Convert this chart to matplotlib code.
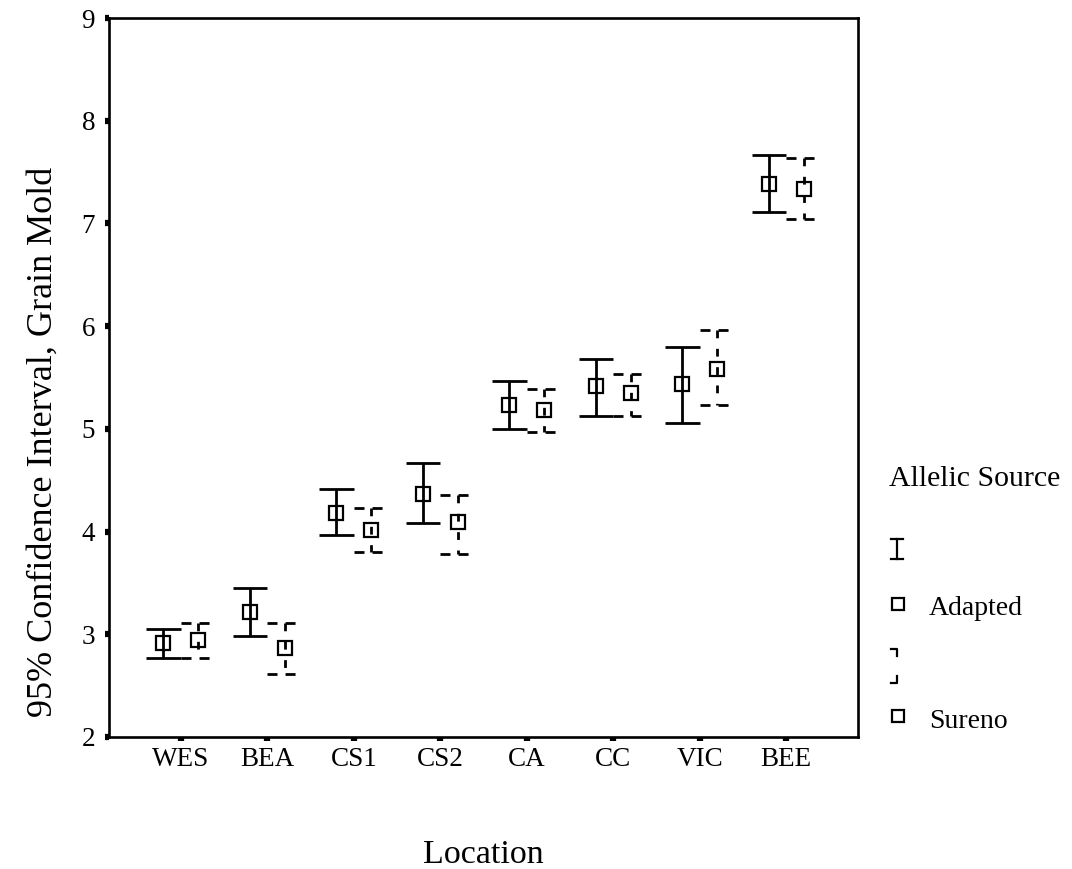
import numpy as np
import matplotlib
matplotlib.use('Agg')
import matplotlib.pyplot as plt

plt.rcParams['font.family'] = ['Liberation Serif', 'DejaVu Serif']

# locations and 95% CI of grain mold score per allelic source
locations = ['WES', 'BEA', 'CS1', 'CS2', 'CA', 'CC', 'VIC', 'BEE']

adapted_mean = [2.92, 3.22, 4.18, 4.37, 5.23, 5.42, 5.44, 7.38]
adapted_low = [2.77, 2.98, 3.97, 4.08, 5.00, 5.13, 5.06, 7.11]
adapted_high = [3.05, 3.45, 4.41, 4.67, 5.47, 5.68, 5.80, 7.67]

sureno_mean = [2.94, 2.87, 4.02, 4.09, 5.18, 5.35, 5.58, 7.34]
sureno_low = [2.77, 2.61, 3.80, 3.78, 4.97, 5.13, 5.23, 7.04]
sureno_high = [3.11, 3.11, 4.23, 4.36, 5.39, 5.53, 5.96, 7.64]

W, H = 1072, 869
fig = plt.figure(figsize=(W / 100, H / 100), dpi=100)
ax = fig.add_axes([109 / W, 1 - 737 / H, (858 - 109) / W, (737 - 18) / H])

x = np.arange(1, len(locations) + 1)
off = 0.2
cap = 0.2
lw = 2.0
dash = (0, (3.6, 2.9))

# adapted: solid bars
xa = x - off
ax.vlines(xa, adapted_low, adapted_high, colors='black', lw=lw)
ax.hlines(adapted_high, xa - cap, xa + cap, colors='black', lw=lw)
ax.hlines(adapted_low, xa - cap, xa + cap, colors='black', lw=lw)
ax.plot(xa, adapted_mean, ls='none', marker='s', ms=9.5, mew=1.6,
        mec='black', mfc='none')

# sureno: dashed bars
xs = x + off
for i in range(len(xs)):
    ax.plot([xs[i], xs[i]], [sureno_high[i], sureno_low[i]], color='black',
            lw=lw, linestyle=(0, (2.8, 3.8)))
    ax.plot([xs[i] - cap, xs[i] + cap], [sureno_high[i]] * 2, color='black',
            lw=lw, linestyle=dash)
    ax.plot([xs[i] - cap, xs[i] + cap], [sureno_low[i]] * 2, color='black',
            lw=lw, linestyle=dash)
ax.plot(xs, sureno_mean, ls='none', marker='s', ms=9.5, mew=1.6,
        mec='black', mfc='none')

ax.set_xlim(0.17, 8.83)
ax.set_ylim(2, 9)
ax.set_xticks(x)
ax.set_xticklabels(locations)
ax.set_yticks(np.arange(2, 10))
for s in ax.spines.values():
    s.set_linewidth(1.9)
ax.tick_params(direction='out', length=3, width=4.5, labelsize=19.5)
ax.tick_params(axis='x', pad=4.5)
ax.tick_params(axis='y', pad=7)

fig.text(483 / W, 1 - 863 / H, 'Location', ha='center', va='baseline',
         fontsize=24.5)
fig.text(43 / W, 1 - 442 / H, '95% Confidence Interval, Grain Mold',
         rotation=90, ha='center', va='center', fontsize=26)

# legend drawn in pixel space
lax = fig.add_axes([0, 0, 1, 1])
lax.set_xlim(0, W)
lax.set_ylim(H, 0)
lax.axis('off')
lax.text(889, 486, 'Allelic Source', fontsize=21.5, va='baseline')
lax.plot([897, 897], [539, 559], color='black', lw=1.6)
lax.plot([891, 903], [539, 539], color='black', lw=1.6)
lax.plot([891, 903], [559, 559], color='black', lw=1.6)
lax.plot([897.5], [603.5], marker='s', ms=9, mew=1.6, mec='black', mfc='none')
lax.text(929, 615, 'Adapted', fontsize=20, va='baseline')
lax.plot([891, 897, 897], [649, 649, 656], color='black', lw=1.6)
lax.plot([897, 897, 891], [676, 683, 683], color='black', lw=1.6)
lax.plot([897.5], [716], marker='s', ms=9, mew=1.6, mec='black', mfc='none')
lax.text(929, 727.5, 'Sureno', fontsize=20, va='baseline')

fig.savefig('out.png', dpi=100)
